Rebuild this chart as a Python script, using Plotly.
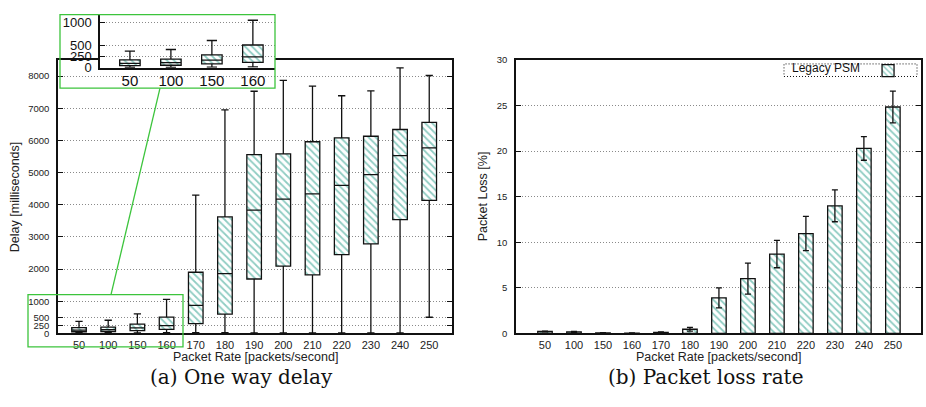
import numpy as np
import plotly.graph_objects as go

# Packet rates (packets/second) shared by both panels
rates = ["50", "100", "150", "160", "170", "180", "190", "200", "210", "220", "230", "240", "250"]

# One-way delay distribution per rate (milliseconds)
delay_low = [10, 10, 15, 20, 20, 20, 15, 15, 15, 15, 15, 15, 500]
delay_q1 = [50, 57, 86, 122, 300, 600, 1690, 2090, 1820, 2450, 2780, 3535, 4135]
delay_median = [100, 115, 171, 242, 870, 1860, 3835, 4175, 4335, 4600, 4935, 5530, 5770]
delay_q3 = [178, 193, 285, 507, 1900, 3620, 5560, 5580, 5960, 6080, 6130, 6340, 6560]
delay_high = [370, 407, 606, 1056, 4300, 6950, 7530, 7870, 7690, 7390, 7540, 8260, 8020]

# Packet loss (%) with its spread
loss_pct = [0.2, 0.15, 0.05, 0.03, 0.1, 0.45, 3.9, 6.0, 8.7, 10.95, 14.0, 20.3, 24.85]
loss_err = [0.05, 0.05, 0.02, 0.02, 0.05, 0.2, 1.1, 1.7, 1.5, 1.88, 1.75, 1.3, 1.75]

delay_ticks = [0, 250, 500, 1000, 2000, 3000, 4000, 5000, 6000, 7000, 8000]
zoom_ticks = [0, 250, 500, 1000]
loss_ticks = [0, 5, 10, 15, 20, 25, 30]
zoom_count = 4  # low-rate boxes repeated in the magnified view

W, H = 926, 407
FONT = "Liberation Sans"
TEAL = "#1f9a86"
GREEN = "#3cc43c"
GRID = "#8a8a8a"
DOTS = "1px,2px"


def px(x):
    return x / W


def py(y):
    return 1 - y / H


idx = np.arange(len(rates))
q1 = np.array(delay_q1)
q3 = np.array(delay_q3)
hatch = dict(shape="\\", fgcolor=TEAL, bgcolor="white", size=5, solidity=0.35)

fig = go.Figure()


def add_delay_boxes(n, xa, ya):
    # hatched fill between the quartiles, then the box/whisker outline on top
    fig.add_trace(go.Bar(
        x=idx[:n], y=(q3 - q1)[:n], base=q1[:n], width=0.5,
        marker=dict(color="white", pattern=hatch, line=dict(width=0)),
        xaxis=xa, yaxis=ya, showlegend=False, hoverinfo="skip"))
    fig.add_trace(go.Box(
        x=idx[:n], q1=delay_q1[:n], median=delay_median[:n], q3=delay_q3[:n],
        lowerfence=delay_low[:n], upperfence=delay_high[:n],
        width=0.5, whiskerwidth=0.5, boxpoints=False,
        fillcolor="rgba(0,0,0,0)", line=dict(color="#111", width=1.3),
        xaxis=xa, yaxis=ya, showlegend=False))


add_delay_boxes(len(rates), "x", "y")

# Packet loss bars
fig.add_trace(go.Bar(
    x=idx, y=loss_pct, width=0.5, name="",
    marker=dict(color="white", pattern=hatch, line=dict(color="#111", width=1.3)),
    error_y=dict(type="data", array=loss_err, color="#111", thickness=1.3, width=3),
    xaxis="x2", yaxis="y2", showlegend=True))

# Magnified view of the low-rate boxes
add_delay_boxes(zoom_count, "x4", "y4")

axis_font = dict(family=FONT, size=9.5, color="#222")
frame = dict(showline=True, linecolor="#111", linewidth=1.5, mirror=True, zeroline=False)

left_dom_x = [px(58), px(452)]
right_dom_x = [px(516), px(921)]
dom_y = [py(339), py(56)]

fig.update_layout(
    width=W, height=H, autosize=False,
    margin=dict(l=0, r=0, t=0, b=0),
    paper_bgcolor="white", plot_bgcolor="white",
    font=dict(family=FONT, color="#222"),
    boxmode="overlay", barmode="overlay",
    xaxis=dict(domain=left_dom_x, range=[-0.72, 12.78], tickvals=idx, ticktext=rates,
               ticks="", showgrid=False, tickfont=dict(family=FONT, size=11, color="#222"),
               ticklabelstandoff=1, anchor="y", **frame),
    yaxis=dict(domain=dom_y, range=[0, 8500], tickvals=delay_ticks, ticks="inside", ticklen=5,
               tickcolor="#111", showgrid=True, gridcolor=GRID, griddash=DOTS, gridwidth=1,
               tickfont=axis_font, ticklabelstandoff=5, anchor="x",
               **{**frame, "mirror": "ticks"}),
    xaxis2=dict(domain=right_dom_x, range=[-1, 12.97], tickvals=idx, ticktext=rates,
                ticks="", showgrid=False, tickfont=dict(family=FONT, size=11, color="#222"),
                ticklabelstandoff=1, anchor="y2", **frame),
    yaxis2=dict(domain=dom_y, range=[0, 30], tickvals=loss_ticks, ticks="inside", ticklen=5,
                tickcolor="#111", showgrid=True, gridcolor=GRID, griddash=DOTS, gridwidth=1,
                tickfont=axis_font, ticklabelstandoff=5, anchor="x2",
                **{**frame, "mirror": "ticks"}),
    # blank panel that masks the main plot behind the magnified view
    xaxis3=dict(domain=[px(60), px(275)], range=[0, 1], visible=False, anchor="y3"),
    yaxis3=dict(domain=[py(85), py(9)], range=[0, 1], visible=False, anchor="x3"),
    xaxis4=dict(domain=[px(100), px(275)], range=[-0.73, 3.54], tickvals=idx[:zoom_count],
                ticktext=rates[:zoom_count], ticks="", showgrid=False, showline=True,
                linecolor="#111", linewidth=1.5, zeroline=False,
                tickfont=dict(family=FONT, size=15, color="#111"), ticklabelstandoff=-2,
                anchor="y4"),
    yaxis4=dict(domain=[py(64), py(9)], range=[0, 1180], tickvals=zoom_ticks, ticks="inside",
                ticklen=5, tickcolor="#111", showgrid=True, gridcolor=GRID, griddash=DOTS,
                showline=True, linecolor="#111", linewidth=1.5, zeroline=False,
                tickfont=dict(family=FONT, size=13, color="#111"), ticklabelstandoff=4,
                anchor="x4"),
    legend=dict(x=px(914), xanchor="right", y=py(52), yanchor="top",
                title=dict(text="Legacy PSM", side="left", font=dict(family=FONT, size=12, color="#111")),
                font=dict(family=FONT, size=12), bgcolor="rgba(0,0,0,0)", borderwidth=0,
                itemwidth=30),
)

shapes = [
    dict(type="rect", xref="paper", yref="paper", x0=px(60), x1=px(275), y0=py(85), y1=py(9),
         line=dict(color=GREEN, width=1.3)),
    dict(type="rect", xref="paper", yref="paper", x0=px(28), x1=px(183), y0=py(353), y1=py(299),
         line=dict(color=GREEN, width=1.3)),
    dict(type="line", xref="paper", yref="paper", x0=px(160), x1=px(111), y0=py(85), y1=py(299),
         line=dict(color=GREEN, width=1.3)),
    dict(type="rect", xref="paper", yref="paper", x0=px(784), x1=px(917), y0=py(73), y1=py(60),
         line=dict(color="#111", width=1, dash=DOTS)),
]
fig.update_layout(shapes=shapes)

title_font = dict(family=FONT, size=12.5, color="#222")
caption_font = dict(family="DejaVu Serif", size=20, color="#111")
annotations = [
    dict(text="Packet Rate [packets/second]", x=px(255), y=py(364), font=title_font),
    dict(text="Packet Rate [packets/second]", x=px(718), y=py(364), font=title_font),
    dict(text="Delay [milliseconds]", x=px(15), y=py(198), textangle=-90, font=title_font),
    dict(text="Packet Loss [%]", x=px(483), y=py(197), textangle=-90, font=title_font),
    dict(text="(a) One way delay", x=px(242), y=py(384), font=caption_font),
    dict(text="(b) Packet loss rate", x=px(705), y=py(384), font=caption_font),
]
for a in annotations:
    a.update(xref="paper", yref="paper", showarrow=False, xanchor="center", yanchor="middle")
fig.update_layout(annotations=annotations)

fig.write_html("out.html")
